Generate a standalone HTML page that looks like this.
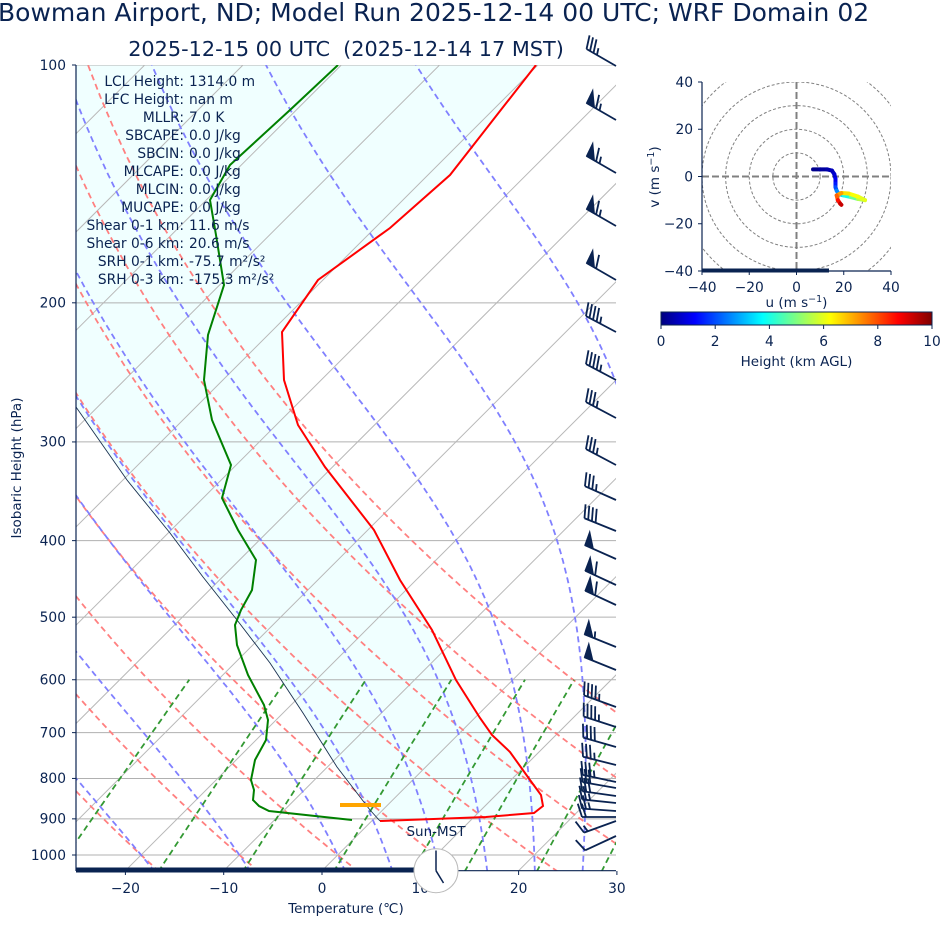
<!DOCTYPE html>
<html><head><meta charset="utf-8">
<style>
html,body{margin:0;padding:0;background:#fff;}
svg{display:block;font-family:"DejaVu Sans","Liberation Sans",sans-serif;}
</style></head>
<body>
<svg id="s" width="940" height="936" viewBox="0 0 940 936" xmlns="http://www.w3.org/2000/svg">
<defs>
<clipPath id="cm"><rect x="76" y="65" width="540" height="806"/></clipPath>
<clipPath id="ch"><rect x="702" y="82" width="189" height="189"/></clipPath>
<linearGradient id="jet" x1="0" x2="1" y1="0" y2="0">
<stop offset="0" stop-color="#00007f"/><stop offset="0.125" stop-color="#0000ff"/>
<stop offset="0.375" stop-color="#00ffff"/><stop offset="0.625" stop-color="#ffff00"/>
<stop offset="0.875" stop-color="#ff0000"/><stop offset="1" stop-color="#7f0000"/>
</linearGradient>
</defs>
<g id="main" clip-path="url(#cm)"></g>
<g id="fg"></g>
<g id="hodo"></g>
<text x="-2" y="21" font-size="25" fill="#0a2351">Bowman Airport, ND; Model Run 2025-12-14 00 UTC; WRF Domain 02</text>
<text x="346" y="56" font-size="20.8" fill="#0a2351" text-anchor="middle" xml:space="preserve">2025-12-15 00 UTC  (2025-12-14 17 MST)</text>
<g font-size="13.8" fill="#0a2351" text-anchor="end">
<text x="184" y="86">LCL Height:</text><text x="184" y="104">LFC Height:</text><text x="184" y="122">MLLR:</text>
<text x="184" y="140">SBCAPE:</text><text x="184" y="158">SBCIN:</text><text x="184" y="176">MLCAPE:</text>
<text x="184" y="194">MLCIN:</text><text x="184" y="212">MUCAPE:</text><text x="184" y="230">Shear 0-1 km:</text>
<text x="184" y="248">Shear 0-6 km:</text><text x="184" y="266">SRH 0-1 km:</text><text x="184" y="284">SRH 0-3 km:</text>
</g>
<g font-size="13.8" fill="#0a2351">
<text x="189" y="86">1314.0 m</text><text x="189" y="104">nan m</text><text x="189" y="122">7.0 K</text>
<text x="189" y="140">0.0 J/kg</text><text x="189" y="158">0.0 J/kg</text><text x="189" y="176">0.0 J/kg</text>
<text x="189" y="194">0.0 J/kg</text><text x="189" y="212">0.0 J/kg</text><text x="189" y="230">11.6 m/s</text>
<text x="189" y="248">20.6 m/s</text><text x="189" y="266">-75.7 m²/s²</text><text x="189" y="284">-175.3 m²/s²</text>
</g>
<text x="346" y="913" font-size="13.5" fill="#0a2351" text-anchor="middle">Temperature (℃)</text>
<text transform="translate(21,468) rotate(-90)" font-size="13.5" fill="#0a2351" text-anchor="middle">Isobaric Height (hPa)</text>
<text x="436" y="836" font-size="13.5" fill="#0a2351" text-anchor="middle">Sun-MST</text>
</svg>
<script>
(function(){
var NS="http://www.w3.org/2000/svg";
function el(p,t,a){var e=document.createElementNS(NS,t);for(var k in a)e.setAttribute(k,a[k]);p.appendChild(e);return e;}
var main=document.getElementById('main'),fg=document.getElementById('fg'),hodo=document.getElementById('hodo');
var YB=870.7;
function Y(p){return 65+790*(Math.log10(p)-2);}
function X(T,p){return 322+9.83*T+(YB-Y(p));}
function pl(pts){return pts.map(function(q){return q[0].toFixed(1)+','+q[1].toFixed(1);}).join(' ');}
var C="#0a2351";
var parcel=[[380,821],[370,810],[337,767],[303,713],[270,663],[237,620],[203,577],[170,533],[127,480],[76,407]];
var temp=[[536,65],[450,175],[390,228],[318,280],[282,332],[284,380],[298,425],[325,467],[374,530],[400,580],[432,630],[456,680],[480,718],[492,735],[510,752],[530,780],[541,795],[543,806],[534,813],[486,817],[380,821]];
var dew=[[338,65],[290,110],[230,165],[210,200],[216,235],[224,285],[208,335],[204,380],[212,420],[231,465],[222,498],[238,530],[256,560],[252,590],[241,610],[235,625],[237,645],[248,675],[264,705],[268,720],[266,740],[255,760],[251,780],[254,790],[253,800],[259,806],[269,811],[352,820]];
var poly=parcel.concat([[76,65]]).concat(temp.slice(0,-1));
el(main,'polygon',{points:pl(poly),fill:'#f0ffff'});
for(var p=100;p<=1000;p+=100){el(main,'line',{x1:76,x2:616,y1:Y(p),y2:Y(p),stroke:'#b0b0b0','stroke-width':1});}
for(var T=-110;T<=40;T+=10){var x0=322+9.83*T;el(main,'line',{x1:x0,y1:YB,x2:x0+805.7,y2:65,stroke:'#b8b8b8','stroke-width':1});}
for(var t0=-40;t0<=50;t0+=10){var pts=[];for(var p=1050;p>=100;p-=10){var T=(t0+273.15)*Math.pow(p/1000,0.2857)-273.15;pts.push([X(T,p),Y(p)]);}
el(main,'polyline',{points:pl(pts),fill:'none',stroke:'#ff8080','stroke-width':1.8,'stroke-dasharray':'6,4'});}
function es(Tc){return 6.112*Math.exp(17.67*Tc/(Tc+243.5));}
function dTdp(TK,p){var e=es(TK-273.15);var rs=0.622*e/(p-e);var Rd=287.04,Cp=1005.7,Lv=2.501e6;
return (Rd*TK+Lv*rs)/(p*(Cp+Lv*Lv*rs*0.622/(Rd*TK*TK)));}
var mt=[-50,-40,-30,-20,-10,0,5,10,15,20,25,30];
mt.forEach(function(t0){var TK=t0+273.15;var p=1000;var up=[];
 var TKd=TK,pd=1000;var dn=[];while(pd<1050){var h=2;TKd+=dTdp(TKd,pd)*h;pd+=h;dn.push([X(TKd-273.15,pd),Y(pd)]);}
 up.push([X(t0,1000),Y(1000)]);
 while(p>100){var h=-2;var k1=dTdp(TK,p),k2=dTdp(TK+k1*h/2,p+h/2),k3=dTdp(TK+k2*h/2,p+h/2),k4=dTdp(TK+k3*h,p+h);TK+=h*(k1+2*k2+2*k3+k4)/6;p+=h;up.push([X(TK-273.15,p),Y(p)]);}
 var pts=dn.reverse().concat(up);
 el(main,'polyline',{points:pl(pts),fill:'none',stroke:'#8080ff','stroke-width':1.8,'stroke-dasharray':'6,4'});});
[0.0004,0.001,0.002,0.004,0.007,0.01,0.016,0.024,0.032].forEach(function(w){var pts=[];for(var p=1050;p>=600;p-=10){var e=p*w/(0.622+w);var l=Math.log(e/6.112);var Td=243.5*l/(17.67-l);pts.push([X(Td,p),Y(p)]);}
el(main,'polyline',{points:pl(pts),fill:'none',stroke:'#339933','stroke-width':1.8,'stroke-dasharray':'6,4'});});
el(main,'polyline',{points:pl(parcel),fill:'none',stroke:'#1a3050','stroke-width':0.9});
el(main,'polyline',{points:pl(temp),fill:'none',stroke:'#ff0000','stroke-width':2});
el(main,'polyline',{points:pl(dew),fill:'none',stroke:'#008000','stroke-width':2});
el(main,'line',{x1:340,x2:381,y1:805,y2:805,stroke:'#ffa500','stroke-width':4});
var barbs=[[66,30,35],[120,30,65],[173,30,65],[226,30,65],[280,30,60],[332,28,45],[380,28,45],[418,28,35],[465,28,35],[500,24,35],[531,22,40],[559,24,50],[585,25,60],[605,25,60],[647,22,55],[670,22,50],[707,20,45],[727,18,45],[747,16,40],[765,14,35],[782,12,35],[788,10,30],[796,8,30],[803,6,25],[811,4,25],[817,0,20],[821,-20,15],[836,-25,10]];
barbs.forEach(function(b){var bx=616,by=b[0],a=b[1]*Math.PI/180,L=34;var dx=-Math.cos(a),dy=-Math.sin(a);
 var px=Math.sin(a),py=-Math.cos(a);
 var tx=bx+L*dx,ty=by+L*dy;
 el(fg,'line',{x1:bx,y1:by,x2:tx,y2:ty,stroke:C,'stroke-width':1.8});
 var s=Math.round(b[2]/5)*5;var pos=0;var flags=Math.floor(s/50);s-=flags*50;var full=Math.floor(s/10);s-=full*10;var half=s>=5?1:0;
 var bl=14,fw=9;
 for(var i=0;i<flags;i++){var x1=tx-dx*pos,y1=ty-dy*pos;var x3=tx-dx*(pos+fw),y3=ty-dy*(pos+fw);var x2=x1+px*bl+dx*1,y2=y1+py*bl+dy*1;
  el(fg,'polygon',{points:pl([[x1,y1],[x2,y2],[x3,y3]]),fill:C,stroke:C,'stroke-width':1.2});pos+=fw+2;}
 if(flags==0&&full==0&&half==1)pos=4;
 for(var i=0;i<full;i++){var x1=tx-dx*pos,y1=ty-dy*pos;el(fg,'line',{x1:x1,y1:y1,x2:x1+bl*(px*0.95+dx*0.3),y2:y1+bl*(py*0.95+dy*0.3),stroke:C,'stroke-width':1.8});pos+=4;}
 if(half){var x1=tx-dx*pos,y1=ty-dy*pos;el(fg,'line',{x1:x1,y1:y1,x2:x1+bl*0.5*(px*0.95+dx*0.3),y2:y1+bl*0.5*(py*0.95+dy*0.3),stroke:C,'stroke-width':1.8});}
});
el(fg,'line',{x1:76,y1:65,x2:76,y2:871,stroke:C,'stroke-width':1.2});
el(fg,'line',{x1:76,y1:870.7,x2:616,y2:870.7,stroke:C,'stroke-width':1.2});
el(fg,'rect',{x:76,y:867.5,width:340,height:5,fill:C});
[100,200,300,400,500,600,700,800,900,1000].forEach(function(p){var y=Y(p);el(fg,'line',{x1:72,x2:76,y1:y,y2:y,stroke:C,'stroke-width':1});
 var t=el(fg,'text',{x:66,y:y+4.8,'font-size':13.8,fill:C,'text-anchor':'end'});t.textContent=p;});
for(var T=-20;T<=30;T+=10){var x=322+9.83*T;el(fg,'line',{x1:x,x2:x,y1:871,y2:875,stroke:C,'stroke-width':1});
 var t=el(fg,'text',{x:x,y:893,'font-size':13.8,fill:C,'text-anchor':'middle'});t.textContent=(T<0?'\u2212'+(-T):T);}
el(fg,'circle',{cx:436,cy:870.7,r:22,fill:'#fff',stroke:'#bbbbbb','stroke-width':1});
el(fg,'line',{x1:436,y1:870.7,x2:436,y2:850.5,stroke:C,'stroke-width':1.5});
el(fg,'line',{x1:436,y1:870.7,x2:443.5,y2:883,stroke:C,'stroke-width':1.5});
function hx(u){return 796.5+u*2.3625;} function hy(v){return 176.5-v*2.3625;}
var hc=el(hodo,'g',{'clip-path':'url(#ch)'});
[10,20,30,40,50].forEach(function(r){el(hc,'circle',{cx:796.5,cy:176.5,r:r*2.3625,fill:'none',stroke:'#808080','stroke-width':1,'stroke-dasharray':'3,2'});});
el(hc,'line',{x1:702,x2:891,y1:176.5,y2:176.5,stroke:'#808080','stroke-width':2,'stroke-dasharray':'7,3'});
el(hc,'line',{x1:796.5,x2:796.5,y1:82,y2:271,stroke:'#808080','stroke-width':2,'stroke-dasharray':'7,3'});
function jet(f){var st=[[0,0,0,127],[0.125,0,0,255],[0.375,0,255,255],[0.625,255,255,0],[0.875,255,0,0],[1,127,0,0]];
 for(var i=1;i<st.length;i++){if(f<=st[i][0]){var a=st[i-1],b=st[i],k=(f-a[0])/(b[0]-a[0]);return 'rgb('+[1,2,3].map(function(j){return Math.round(a[j]+(b[j]-a[j])*k);}).join(',')+')';}}return 'rgb(127,0,0)';}
var hp=[[7,3,0],[10,3,0.15],[13,3,0.3],[15,2.5,0.45],[16,1,0.6],[16.5,-1,0.8],[16.5,-3,1.1],[16.5,-4.5,1.5],[17,-6,2],[18,-7.5,2.6],[20,-8,3.2],[23,-8.7,4],[26,-9.5,4.8],[29,-10,5.5],[26,-8.5,6],[22,-7.2,6.2],[19,-7,6.5],[17,-8,7.2],[17.5,-10,7.8],[18.5,-11.5,8.6],[19,-12,9.3]];
for(var i=1;i<hp.length;i++){el(hc,'line',{x1:hx(hp[i-1][0]),y1:hy(hp[i-1][1]),x2:hx(hp[i][0]),y2:hy(hp[i][1]),stroke:jet(hp[i][2]/10),'stroke-width':4,'stroke-linecap':'round'});}
el(hodo,'line',{x1:702,y1:82,x2:702,y2:271,stroke:C,'stroke-width':1.2});
el(hodo,'line',{x1:702,y1:271,x2:891,y2:271,stroke:C,'stroke-width':1.2});
el(hodo,'rect',{x:702,y:268.5,width:127,height:4,fill:C});
[40,20,0,-20,-40].forEach(function(v){var y=hy(v);el(hodo,'line',{x1:698,x2:702,y1:y,y2:y,stroke:C});var t=el(hodo,'text',{x:693,y:y+4.8,'font-size':13.8,fill:C,'text-anchor':'end'});t.textContent=(v<0?'\u2212'+(-v):v);});
[-40,-20,0,20,40].forEach(function(u){var x=hx(u);el(hodo,'line',{x1:x,x2:x,y1:271,y2:275,stroke:C});var t=el(hodo,'text',{x:x,y:292,'font-size':13.8,fill:C,'text-anchor':'middle'});t.textContent=(u<0?'\u2212'+(-u):u);});
var t=el(hodo,'text',{x:796.5,y:307,'font-size':13.5,fill:C,'text-anchor':'middle'});t.innerHTML='u (m s<tspan dy="-5" font-size="9.5">\u22121</tspan><tspan dy="5">)</tspan>';
t=el(hodo,'text',{transform:'translate(659,177) rotate(-90)','font-size':13.5,fill:C,'text-anchor':'middle'});t.innerHTML='v (m s<tspan dy="-5" font-size="9.5">\u22121</tspan><tspan dy="5">)</tspan>';
el(hodo,'rect',{x:661,y:312,width:271,height:13,fill:'url(#jet)',stroke:C,'stroke-width':1});
for(var i=0;i<=10;i+=2){var x=661+i*27.1;el(hodo,'line',{x1:x,x2:x,y1:325,y2:329,stroke:C});var tt=el(hodo,'text',{x:x,y:346,'font-size':13.8,fill:C,'text-anchor':'middle'});tt.textContent=i;}
t=el(hodo,'text',{x:796.5,y:366,'font-size':13.5,fill:C,'text-anchor':'middle'});t.textContent='Height (km AGL)';
})();
</script>
</body></html>
